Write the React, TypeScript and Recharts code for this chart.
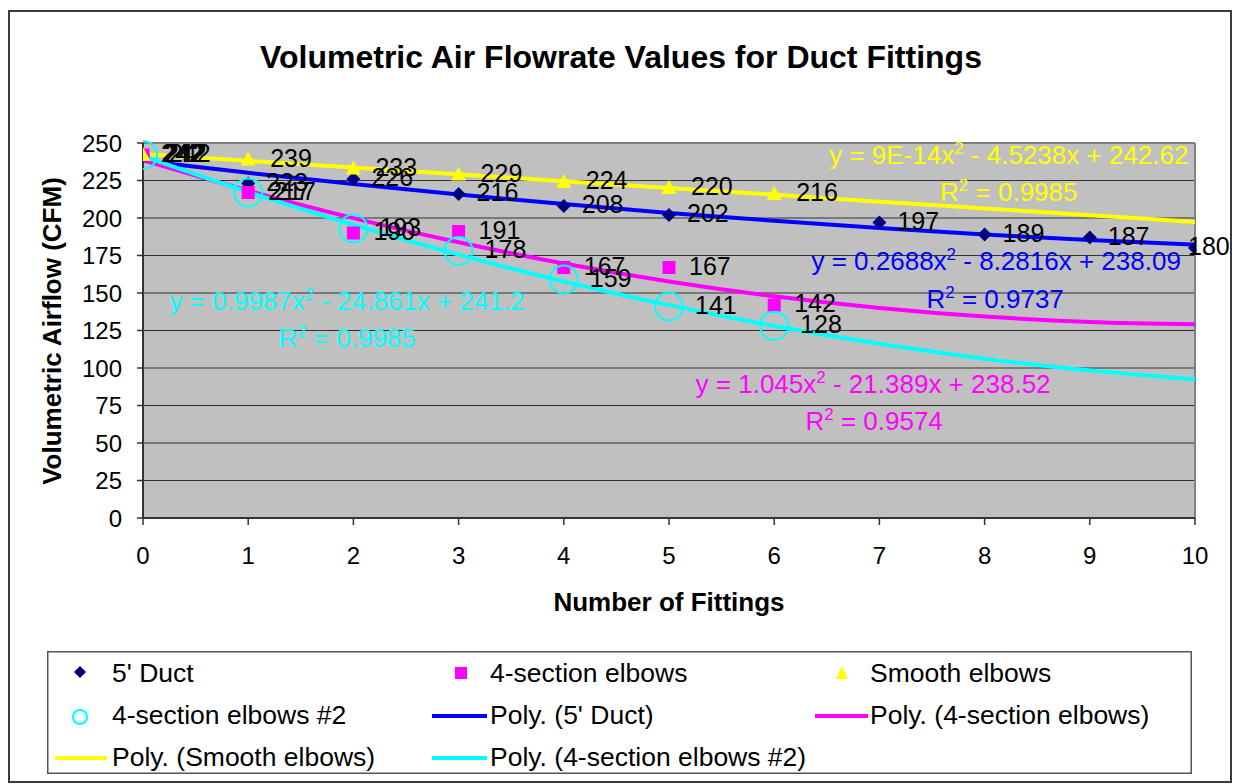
import React from 'react';
import {
  ComposedChart, Line, XAxis, YAxis, CartesianGrid, ReferenceLine, ReferenceDot, LabelList,
} from 'recharts';

const FONT = '"Liberation Sans", Arial, Helvetica, sans-serif';

// ---- data ----
const fittings = [0, 1, 2, 3, 4, 5, 6, 7, 8, 9, 10];
const ductValues = [242, 223, 226, 216, 208, 202, null, 197, 189, 187, 180];
const fourSectionValues = [242, 217, 190, 191, 167, 167, 142, null, null, null, null];
const smoothValues = [242, 239, 233, 229, 224, 220, 216, null, null, null, null];
const fourSection2Values = [242, 217, 193, 178, 159, 141, 128, null, null, null, null];

// polynomial trendlines as drawn (read at each fitting count)
const ductTrend = [238.1, 230.1, 222.6, 215.7, 209.3, 203.4, 198.1, 193.3, 189.0, 185.3, 182.2];
const fourSectionTrend = [238.5, 218.2, 199.9, 183.8, 169.7, 157.7, 147.8, 140.0, 134.3, 130.7, 129.1];
const smoothTrend = [242.6, 238.1, 233.6, 229.1, 224.5, 220.0, 215.5, 210.9, 206.4, 201.9, 197.4];
const fourSection2Trend = [241.2, 217.3, 195.5, 175.6, 157.7, 141.9, 128.0, 116.1, 106.2, 98.3, 92.5];

const yTicks = [0, 25, 50, 75, 100, 125, 150, 175, 200, 225, 250];
const xTicks = [0, 1, 2, 3, 4, 5, 6, 7, 8, 9, 10];

const equations = [
  { pre: 'y = 9E-14x', post: ' - 4.5238x + 242.62', r2: '0.9985', color: '#FFFF00', x: 8.23, y: 242, ry: 217.3, rx: 8.23 },
  { pre: 'y = 0.2688x', post: ' - 8.2816x + 238.09', r2: '0.9737', color: '#0000FF', x: 8.11, y: 171.3, ry: 146, rx: 8.1 },
  { pre: 'y = 1.045x', post: ' - 21.389x + 238.52', r2: '0.9574', color: '#FF00FF', x: 6.94, y: 89.3, ry: 64.7, rx: 6.95 },
  { pre: 'y = 0.9987x', post: ' - 24.861x + 241.2', r2: '0.9985', color: '#00FFFF', x: 1.94, y: 144.7, ry: 120, rx: 1.94 },
];

const data = fittings.map((x, i) => ({
  x,
  duct: ductValues[i],
  four: fourSectionValues[i],
  smooth: smoothValues[i],
  four2: fourSection2Values[i],
  ductT: ductTrend[i],
  fourT: fourSectionTrend[i],
  smoothT: smoothTrend[i],
  four2T: fourSection2Trend[i],
}));

// ---- marker shapes ----
const Diamond = (p: any) => {
  const { cx, cy, payload } = p;
  if (cy == null || payload?.duct == null) return <g />;
  return <polygon points={`${cx},${cy - 7} ${cx + 7},${cy} ${cx},${cy + 7} ${cx - 7},${cy}`} fill="#000080" />;
};
const Square = (p: any) => {
  const { cx, cy, payload } = p;
  if (cy == null || payload?.four == null) return <g />;
  return <rect x={cx - 6.5} y={cy - 6.5} width={13} height={13} fill="#FF00FF" />;
};
const Triangle = (p: any) => {
  const { cx, cy, payload } = p;
  if (cy == null || payload?.smooth == null) return <g />;
  return <polygon points={`${cx},${cy - 8} ${cx + 7.5},${cy + 6} ${cx - 7.5},${cy + 6}`} fill="#FFFF00" />;
};
const Ring = (p: any) => {
  const { cx, cy, payload } = p;
  if (cy == null || payload?.four2 == null) return <g />;
  return <circle cx={cx} cy={cy} r={14} fill="none" stroke="#00FFFF" strokeWidth={2} />;
};

const makeLabel = (dx: number) => (props: any) => {
  const { x, y, value, index } = props;
  if (value == null || y == null) return <g />;
  const off = index === 10 ? -7 : dx;
  return (
    <text x={x + off} y={y - 2} dy="0.36em" fontSize={25} fill="#000" fontFamily={FONT}>
      {value}
    </text>
  );
};

const eqShape = (eq: any, isR2: boolean) => (p: any) => {
  const { cx, cy } = p;
  if (isR2) {
    return (
      <text x={cx} y={cy} dy="0.36em" textAnchor="middle" fontSize={26} fill={eq.color} fontFamily={FONT}>
        R<tspan dy={-10} fontSize={17}>2</tspan><tspan dy={10}>{` = ${eq.r2}`}</tspan>
      </text>
    );
  }
  return (
    <text x={cx} y={cy} dy="0.36em" textAnchor="middle" fontSize={26} fill={eq.color} fontFamily={FONT}>
      {eq.pre}<tspan dy={-10} fontSize={17}>2</tspan><tspan dy={10}>{eq.post}</tspan>
    </text>
  );
};

const legendLabels = [
  "5' Duct", '4-section elbows', 'Smooth elbows',
  '4-section elbows #2', "Poly. (5' Duct)", 'Poly. (4-section elbows)',
  'Poly. (Smooth elbows)', 'Poly. (4-section elbows #2)',
];

const LegendBox = () => {
  const L = 47, T = 651;
  const cols = [{ icon: 80, text: 112, l1: 55, l2: 107 }, { icon: 461, text: 490, l1: 432, l2: 487 }, { icon: 842, text: 870, l1: 815, l2: 868 }];
  const rows = [672, 714, 756];
  const kinds = ['diamond', 'square', 'triangle', 'ring', 'line', 'line', 'line', 'line'];
  const colors = ['#000080', '#FF00FF', '#FFFF00', '#00FFFF', '#0000FF', '#FF00FF', '#FFFF00', '#00FFFF'];
  return (
    <svg style={{ position: 'absolute', left: L, top: T }} width={1145} height={123}>
      <rect x={0.75} y={0.75} width={1143.5} height={121.5} fill="#fff" stroke="#555" strokeWidth={1.5} />
      {legendLabels.map((lab, i) => {
        const c = cols[i % 3];
        const cy = rows[Math.floor(i / 3)] - T;
        const ix = c.icon - L;
        const k = kinds[i];
        let icon: any = null;
        if (k === 'diamond') icon = <polygon points={`${ix},${cy - 6} ${ix + 6},${cy} ${ix},${cy + 6} ${ix - 6},${cy}`} fill={colors[i]} />;
        if (k === 'square') icon = <rect x={ix - 6} y={cy - 5} width={12} height={12} fill={colors[i]} />;
        if (k === 'triangle') icon = <polygon points={`${ix},${cy - 6} ${ix + 6},${cy + 7} ${ix - 6},${cy + 7}`} fill={colors[i]} />;
        if (k === 'ring') icon = <circle cx={ix} cy={cy + 3} r={7} fill="none" stroke={colors[i]} strokeWidth={2} />;
        if (k === 'line') icon = <line x1={c.l1 - L} x2={c.l2 - L} y1={cy + 2} y2={cy + 2} stroke={colors[i]} strokeWidth={4} />;
        return (
          <g key={lab}>
            {icon}
            <text x={c.text - L} y={cy} dy="0.36em" fontSize={26.5} fill="#000" fontFamily={FONT}>{lab}</text>
          </g>
        );
      })}
    </svg>
  );
};

export default function App() {
  return (
    <div style={{ position: 'absolute', left: 0, top: 0, width: 1236, height: 784, background: '#fff', fontFamily: FONT }}>
      <div style={{ position: 'absolute', left: 8, top: 10, width: 1224, height: 773, border: '2px solid #3a3a3a', boxSizing: 'border-box' }} />
      <div style={{ position: 'absolute', left: 8, width: 1226, top: 39, lineHeight: '36px', textAlign: 'center', fontSize: 32, fontWeight: 'bold', color: '#000' }}>
        Volumetric Air Flowrate Values for Duct Fittings
      </div>
      <div style={{ position: 'absolute', left: 0, top: 0 }}>
        <ComposedChart width={1236} height={784} data={data} margin={{ top: 143, right: 41, bottom: 206, left: 83 }}>
          <CartesianGrid vertical={false} fill="#C0C0C0" stroke="#333" strokeWidth={1} fillOpacity={1} />
          <XAxis type="number" dataKey="x" domain={[0, 10]} ticks={xTicks} height={60} tickSize={7} tickMargin={22}
            axisLine={{ stroke: '#333', strokeWidth: 2 }} tickLine={{ stroke: '#333', strokeWidth: 1.5 }}
            tick={{ fill: '#000', fontSize: 24, fontFamily: FONT }} allowDataOverflow />
          <YAxis type="number" domain={[0, 250]} ticks={yTicks} width={60} tickSize={6} tickMargin={15}
            axisLine={{ stroke: '#333', strokeWidth: 2 }} tickLine={{ stroke: '#333', strokeWidth: 1.5 }}
            tick={{ fill: '#000', fontSize: 24, fontFamily: FONT }} interval={0} />
          <ReferenceLine y={250} stroke="#808080" strokeWidth={2} />
          <ReferenceLine x={10} stroke="#808080" strokeWidth={2} />
          <Line type="monotone" dataKey="ductT" stroke="#0000FF" strokeWidth={4} dot={false} isAnimationActive={false} />
          <Line type="monotone" dataKey="fourT" stroke="#FF00FF" strokeWidth={4} dot={false} isAnimationActive={false} />
          <Line type="monotone" dataKey="smoothT" stroke="#FFFF00" strokeWidth={4} dot={false} isAnimationActive={false} />
          <Line type="monotone" dataKey="four2T" stroke="#00FFFF" strokeWidth={4} dot={false} isAnimationActive={false} />
          <Line dataKey="duct" stroke="none" strokeWidth={0} dot={<Diamond />} activeDot={false} isAnimationActive={false}>
            <LabelList dataKey="duct" content={makeLabel(18)} />
          </Line>
          <Line dataKey="four" stroke="none" strokeWidth={0} dot={<Square />} activeDot={false} isAnimationActive={false}>
            <LabelList dataKey="four" content={makeLabel(20)} />
          </Line>
          <Line dataKey="smooth" stroke="none" strokeWidth={0} dot={<Triangle />} activeDot={false} isAnimationActive={false}>
            <LabelList dataKey="smooth" content={makeLabel(22)} />
          </Line>
          <Line dataKey="four2" stroke="none" strokeWidth={0} dot={<Ring />} activeDot={false} isAnimationActive={false}>
            <LabelList dataKey="four2" content={makeLabel(26)} />
          </Line>
          {equations.map((eq, i) => (
            <ReferenceDot key={'e' + i} x={eq.x} y={eq.y} r={1} shape={eqShape(eq, false)} />
          ))}
          {equations.map((eq, i) => (
            <ReferenceDot key={'r' + i} x={eq.rx} y={eq.ry} r={1} shape={eqShape(eq, true)} />
          ))}
        </ComposedChart>
      </div>
      <div style={{ position: 'absolute', left: 52 - 200, top: 331 - 15, width: 400, height: 30, lineHeight: '30px', textAlign: 'center', transform: 'rotate(-90deg)', fontSize: 26, fontWeight: 'bold', color: '#000', whiteSpace: 'nowrap' }}>
        Volumetric Airflow (CFM)
      </div>
      <div style={{ position: 'absolute', left: 143, width: 1052, top: 602 - 15, height: 30, lineHeight: '30px', textAlign: 'center', fontSize: 26, fontWeight: 'bold', color: '#000' }}>
        Number of Fittings
      </div>
      <LegendBox />
    </div>
  );
}
